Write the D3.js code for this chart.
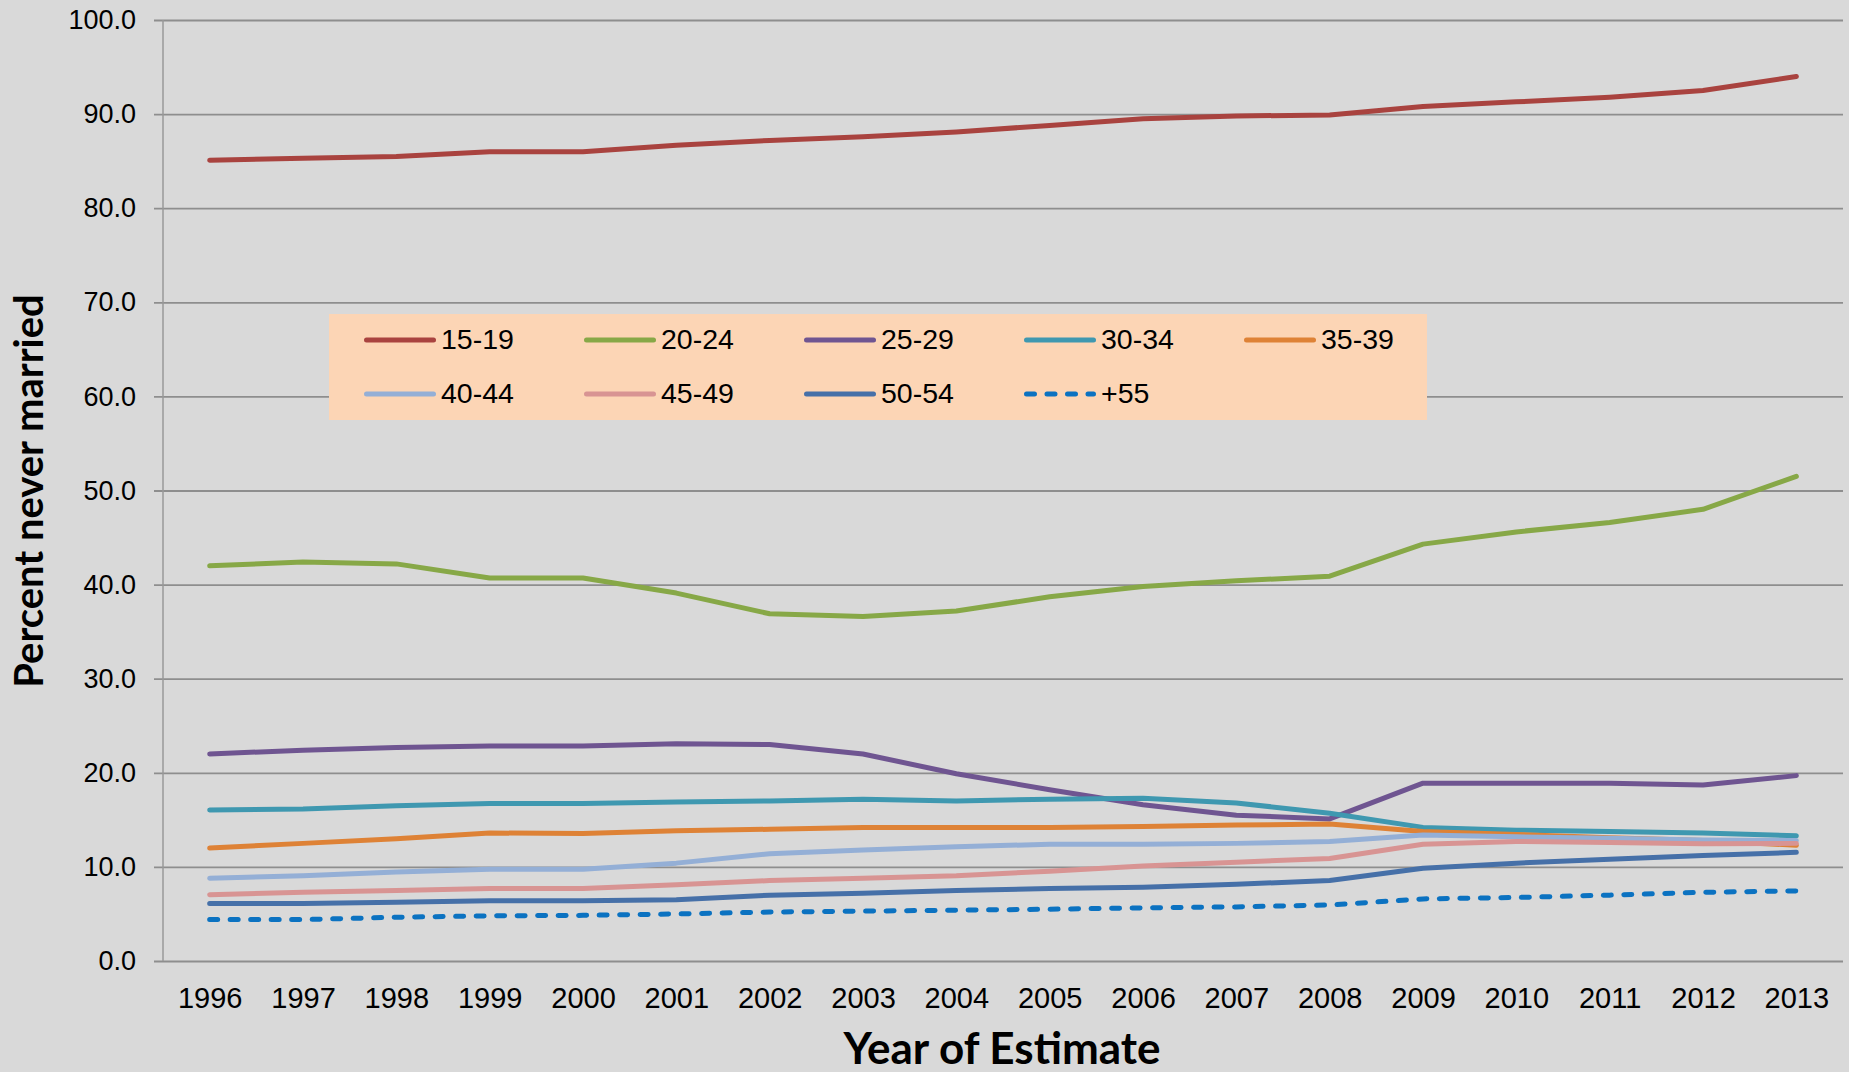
<!DOCTYPE html>
<html>
<head>
<meta charset="utf-8">
<script src="https://cdn.jsdelivr.net/npm/d3@7"></script>
<style>
  body { margin: 0; background: #d9d9d9; }
  svg { display: block; }
</style>
</head>
<body>
<div id="container"></div>
<script>
// year labels along the x axis
var years = ['1996', '1997', '1998', '1999', '2000', '2001', '2002', '2003', '2004',
  '2005', '2006', '2007', '2008', '2009', '2010', '2011', '2012', '2013'];
var yTicks = [0, 10, 20, 30, 40, 50, 60, 70, 80, 90, 100];

// percent never married, by age group
var age15_19 = [85.1, 85.3, 85.5, 86.0, 86.0, 86.7, 87.2, 87.6, 88.1, 88.8, 89.5, 89.8, 89.9, 90.8, 91.3, 91.8, 92.5, 94.0];
var age20_24 = [42.0, 42.4, 42.2, 40.7, 40.7, 39.1, 36.9, 36.6, 37.2, 38.7, 39.8, 40.4, 40.9, 44.3, 45.6, 46.6, 48.0, 51.5];
var age25_29 = [22.0, 22.4, 22.7, 22.85, 22.85, 23.1, 23.0, 22.0, 19.9, 18.2, 16.6, 15.5, 15.1, 18.9, 18.9, 18.9, 18.7, 19.7];
var age30_34 = [16.05, 16.15, 16.5, 16.75, 16.75, 16.9, 17.0, 17.2, 17.0, 17.2, 17.3, 16.8, 15.7, 14.2, 13.9, 13.75, 13.6, 13.3];
var age35_39 = [12.0, 12.5, 13.0, 13.6, 13.55, 13.85, 14.0, 14.2, 14.2, 14.2, 14.3, 14.45, 14.55, 13.75, 13.45, 13.1, 12.8, 12.3];
var age40_44 = [8.8, 9.05, 9.45, 9.75, 9.75, 10.4, 11.4, 11.8, 12.15, 12.4, 12.4, 12.5, 12.7, 13.4, 13.2, 13.05, 12.85, 12.8];
var age45_49 = [7.05, 7.3, 7.5, 7.7, 7.7, 8.1, 8.55, 8.8, 9.05, 9.55, 10.1, 10.5, 10.9, 12.4, 12.7, 12.6, 12.45, 12.5];
var age50_54 = [6.1, 6.1, 6.25, 6.4, 6.4, 6.5, 7.0, 7.2, 7.5, 7.7, 7.85, 8.15, 8.55, 9.85, 10.4, 10.8, 11.2, 11.55];
var age55plus = [4.4, 4.4, 4.65, 4.8, 4.85, 5.0, 5.2, 5.3, 5.4, 5.5, 5.65, 5.75, 5.95, 6.6, 6.75, 7.0, 7.3, 7.45];

var seriesNames = ['15-19', '20-24', '25-29', '30-34', '35-39', '40-44', '45-49', '50-54', '+55'];
var seriesValues = [age15_19, age20_24, age25_29, age30_34, age35_39, age40_44, age45_49, age50_54, age55plus];
var seriesColors = ['#a9433f', '#87a847', '#6f5591', '#3f98b0', '#de8236', '#94afd6', '#d89493', '#4670a8', '#0b72c1'];

var W = 1849, H = 1072;
var plotLeft = 163, plotRight = 1843, plotTop = 20, plotBottom = 961;

var svg = d3.select('#container').append('svg')
  .attr('width', W)
  .attr('height', H);

svg.append('rect')
  .attr('width', W)
  .attr('height', H)
  .attr('fill', '#d9d9d9');

var x = d3.scalePoint()
  .domain(years)
  .range([plotLeft, plotRight])
  .padding(0.5);

var y = d3.scaleLinear()
  .domain([0, 100])
  .range([plotBottom, plotTop]);

// horizontal gridlines + y labels
var yAxis = svg.append('g')
  .attr('transform', 'translate(' + plotLeft + ',0)')
  .call(d3.axisLeft(y)
    .tickValues(yTicks)
    .tickFormat(d3.format('.1f'))
    .tickSizeInner(-(plotRight - plotLeft))
    .tickSizeOuter(0)
    .tickPadding(27));
yAxis.select('.domain').remove();
yAxis.selectAll('.tick line')
  .attr('x1', -9)
  .attr('stroke', '#8e8e8e')
  .attr('stroke-width', 1.8);
yAxis.selectAll('.tick text')
  .attr('font-family', '"Liberation Sans", Arial, sans-serif')
  .attr('font-size', 27)
  .attr('fill', '#000');

// vertical axis line
svg.append('line')
  .attr('x1', plotLeft).attr('x2', plotLeft)
  .attr('y1', plotTop).attr('y2', plotBottom)
  .attr('stroke', '#999')
  .attr('stroke-width', 1.5);

// x labels
var xAxis = svg.append('g')
  .attr('transform', 'translate(0,' + plotBottom + ')')
  .call(d3.axisBottom(x).tickSize(0));
xAxis.select('.domain').remove();
xAxis.selectAll('.tick text')
  .attr('dy', null)
  .attr('y', 47)
  .attr('font-family', '"Liberation Sans", Arial, sans-serif')
  .attr('font-size', 29)
  .attr('fill', '#000');

// series lines
var line = d3.line()
  .x(function(d, i) { return x(years[i]); })
  .y(function(d) { return y(d); });

seriesValues.forEach(function(vals, i) {
  svg.append('path')
    .datum(vals)
    .attr('d', line)
    .attr('fill', 'none')
    .attr('stroke', seriesColors[i])
    .attr('stroke-width', 5)
    .attr('stroke-linejoin', 'round')
    .attr('stroke-linecap', 'round')
    .attr('stroke-dasharray', seriesNames[i] == '+55' ? '8 12.5' : null);
});

// legend
var legend = svg.append('g');
legend.append('rect')
  .attr('x', 329).attr('y', 314)
  .attr('width', 1098).attr('height', 106)
  .attr('fill', '#fcd5b5');

var legendItems = legend.selectAll('.item')
  .data(seriesNames)
  .enter()
  .append('g')
  .attr('class', 'item')
  .attr('transform', function(d, i) {
    return 'translate(' + (364 + (i % 5) * 220) + ',' + (340 + Math.floor(i / 5) * 54) + ')';
  });

legendItems.append('line')
  .attr('x1', 2.5).attr('x2', 69.5)
  .attr('y1', 0).attr('y2', 0)
  .attr('stroke', function(d, i) { return seriesColors[i]; })
  .attr('stroke-width', 5)
  .attr('stroke-linecap', 'round')
  .attr('stroke-dasharray', function(d) { return d == '+55' ? '8 12.5' : null; });

legendItems.append('text')
  .attr('x', 77)
  .attr('y', 8.5)
  .attr('font-family', '"Liberation Sans", Arial, sans-serif')
  .attr('font-size', 28.5)
  .attr('fill', '#000')
  .text(function(d) { return d; });

// axis titles
svg.append('text')
  .attr('transform', 'translate(43,491) rotate(-90)')
  .attr('text-anchor', 'middle')
  .attr('font-family', 'Lato, sans-serif')
  .attr('font-weight', 'bold')
  .attr('font-size', 40)
  .attr('fill', '#000')
  .text('Percent never married');

svg.append('text')
  .attr('x', 1002)
  .attr('y', 1064)
  .attr('text-anchor', 'middle')
  .attr('font-family', 'Lato, sans-serif')
  .attr('font-weight', 'bold')
  .attr('font-size', 44)
  .attr('fill', '#000')
  .text('Year of Estimate');
</script>
</body>
</html>
